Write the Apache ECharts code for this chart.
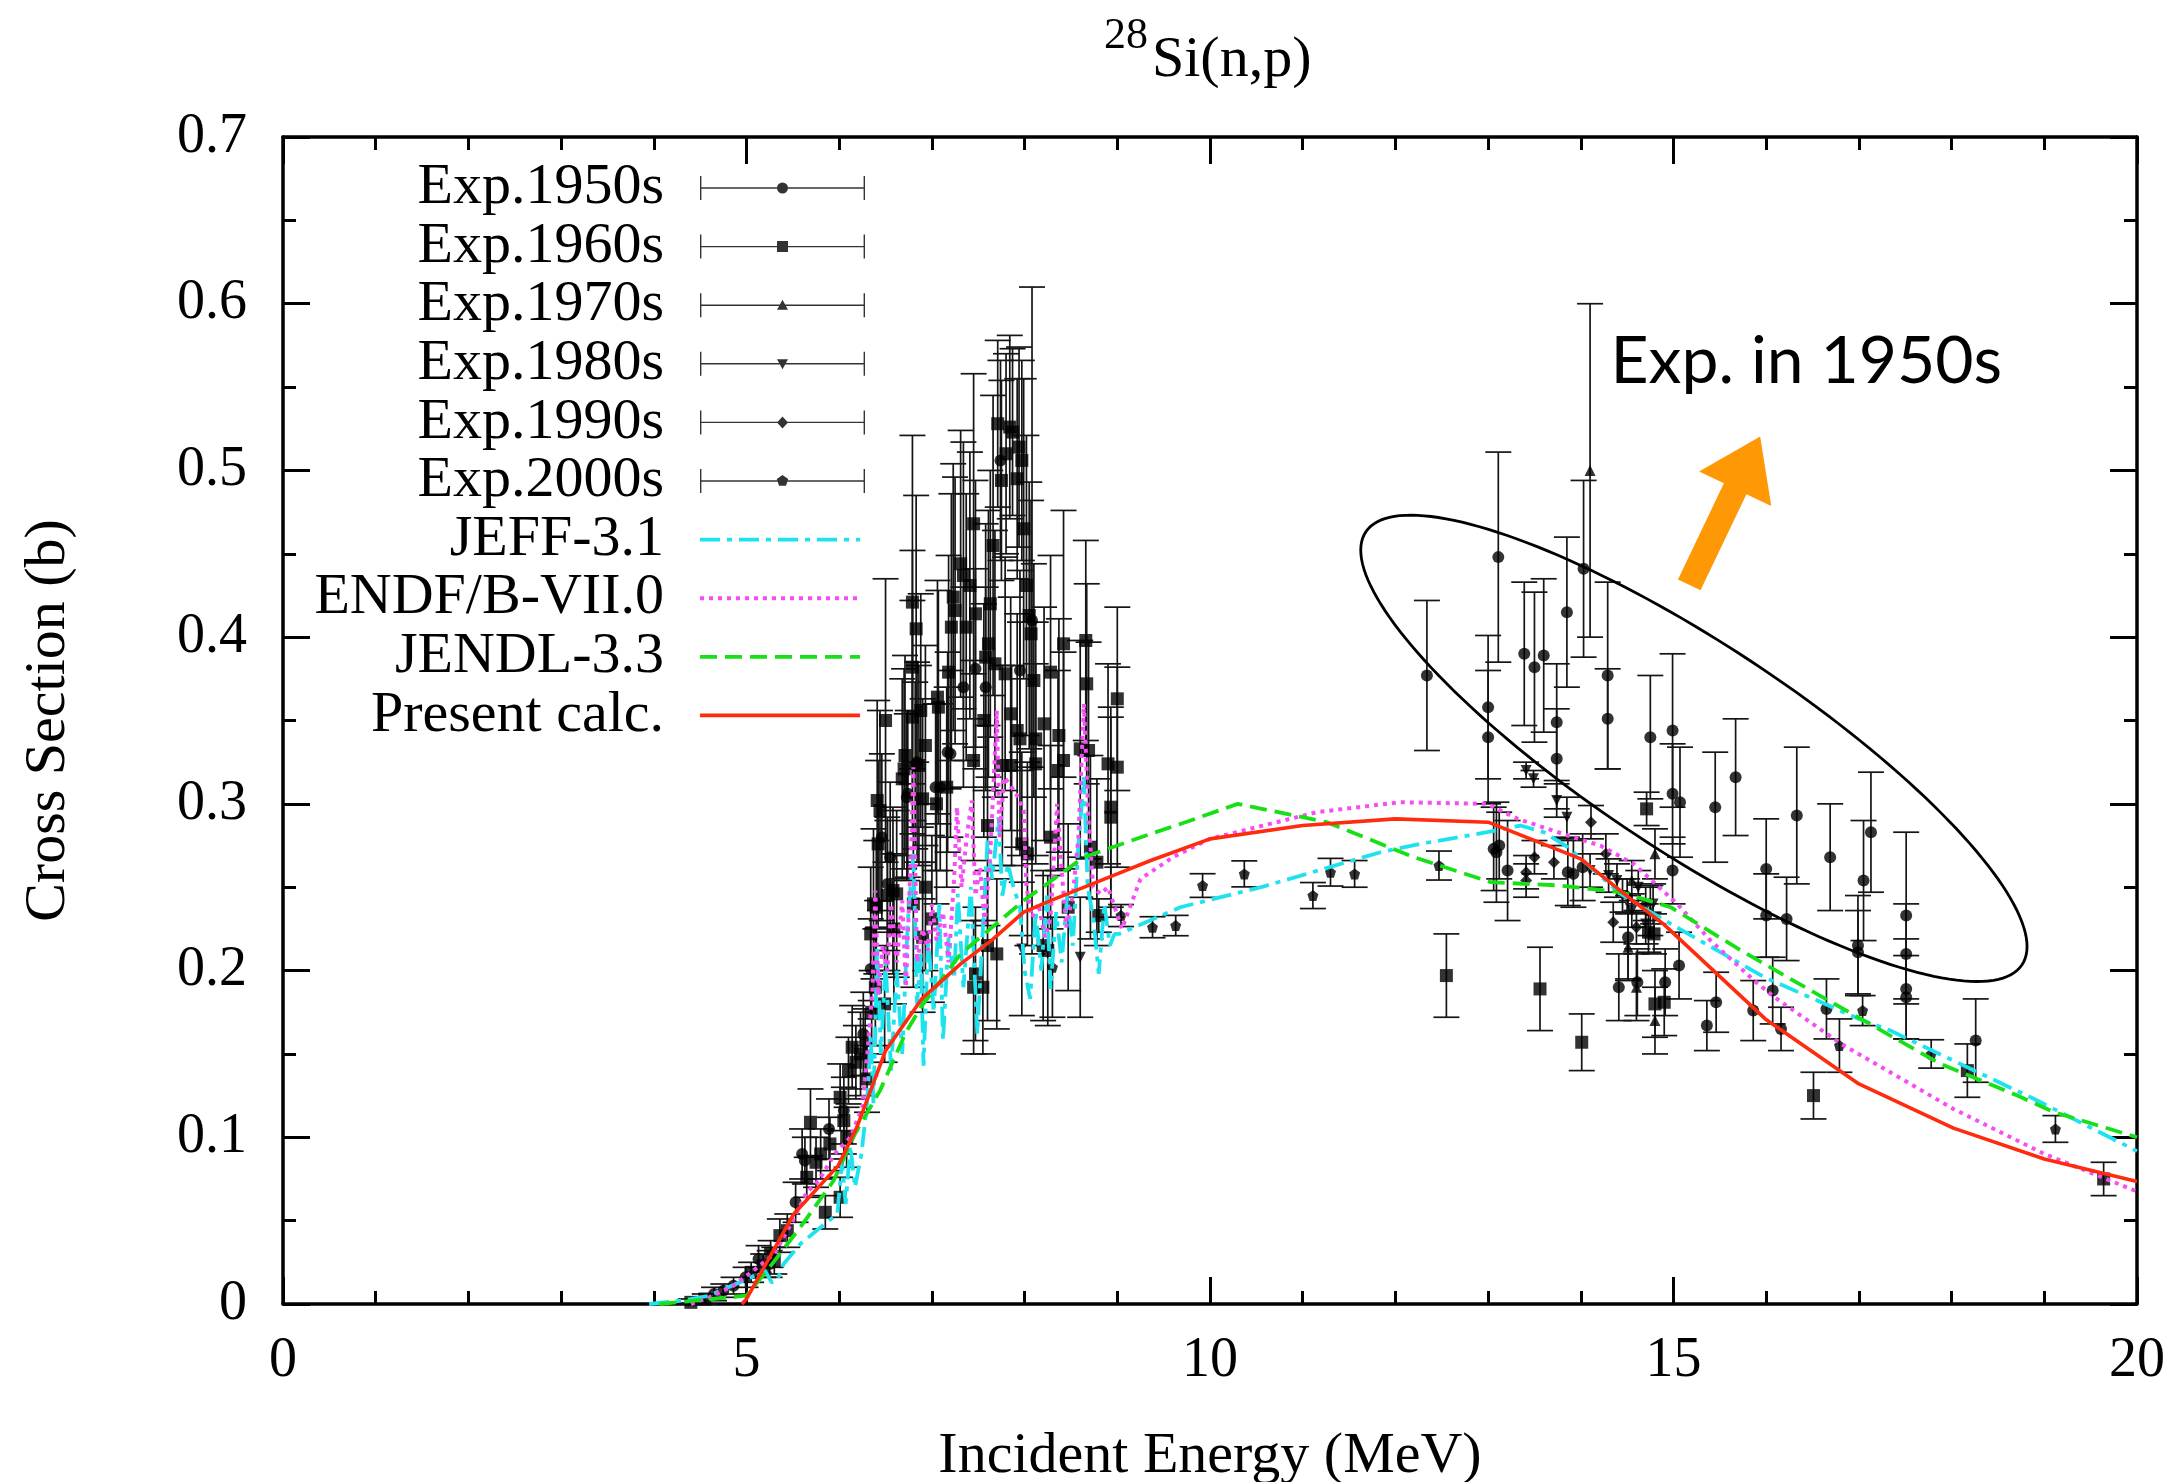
<!DOCTYPE html>
<html>
<head>
<meta charset="utf-8">
<title>28Si(n,p)</title>
<script src="https://cdn.jsdelivr.net/npm/echarts@6/dist/echarts.min.js"></script>
<style>
html,body{margin:0;padding:0;background:#ffffff;}
#chart{width:2181px;height:1482px;}
</style>
</head>
<body>
<div id="chart"></div>
<script>
// ================= DATA =================
const xTickValues = [0, 5, 10, 15, 20];
const yTickLabels = ['0', '0.1', '0.2', '0.3', '0.4', '0.5', '0.6', '0.7'];

// experimental points: [energy MeV, cross section b, error b]
const exp1950s = [
  [4.65,0.006,0.004],[4.75,0.008,0.004],[4.86,0.011,0.005],[4.99,0.016,0.006],[5.13,0.027,0.008],[5.25,0.024,0.008],
  [5.53,0.061,0.012],[5.60,0.090,0.015],[5.63,0.086,0.014],[5.89,0.105,0.018],[6.05,0.116,0.020],[6.26,0.162,0.025],
  [6.28,0.157,0.020],[6.34,0.201,0.030],
  [6.46,0.280,0.050],[6.52,0.252,0.040],[6.55,0.268,0.045],[6.73,0.304,0.050],[6.74,0.306,0.050],[6.82,0.323,0.050],
  [6.84,0.325,0.060],[7.04,0.310,0.050],[7.09,0.310,0.050],[7.17,0.331,0.060],[7.20,0.330,0.050],[7.34,0.370,0.060],
  [7.47,0.381,0.060],[7.58,0.370,0.060],[7.74,0.506,0.060],[7.95,0.380,0.060],[8.08,0.410,0.200],
  [12.34,0.377,0.045],[13.11,0.448,0.063],[13.00,0.358,0.043],[13.00,0.340,0.040],[13.39,0.390,0.043],[13.50,0.382,0.045],
  [13.60,0.389,0.046],[13.74,0.349,0.035],[13.74,0.327,0.030],[13.85,0.415,0.045],[14.03,0.441,0.053],[14.29,0.377,0.056],
  [14.29,0.351,0.030],[14.75,0.340,0.037],[14.99,0.344,0.046],[14.99,0.306,0.030],[15.07,0.301,0.033],[14.99,0.260,0.020],
  [15.45,0.298,0.033],[15.67,0.316,0.035],[16.00,0.261,0.030],[16.00,0.233,0.025],[16.22,0.231,0.025],[16.33,0.293,0.041],
  [16.69,0.268,0.032],[17.05,0.254,0.036],[17.13,0.283,0.036],[16.99,0.215,0.030],[16.99,0.211,0.025],[17.51,0.233,0.050],
  [17.51,0.210,0.030],[17.51,0.189,0.030],[17.51,0.184,0.025],[18.26,0.158,0.025],
  [13.06,0.273,0.025],[13.09,0.271,0.030],[13.12,0.275,0.020],[13.21,0.260,0.030],[13.86,0.259,0.020],[13.92,0.258,0.020],
  [14.02,0.262,0.020],[14.41,0.190,0.020],[14.51,0.220,0.025],[14.61,0.193,0.020],[14.91,0.193,0.020],[15.06,0.203,0.020],
  [15.36,0.167,0.015],[15.46,0.181,0.018],[15.86,0.176,0.018],[16.07,0.188,0.020],[16.16,0.165,0.013],[16.65,0.177,0.018]
];
const exp1960s = [
  [4.40,0.001,0.002],[4.55,0.003,0.003],[5.05,0.019,0.006],[5.18,0.023,0.007],[5.26,0.030,0.008],[5.30,0.026,0.008],
  [5.36,0.041,0.010],[5.44,0.044,0.010],[5.65,0.076,0.012],[5.69,0.109,0.020],[5.75,0.085,0.015],[5.80,0.090,0.015],
  [5.85,0.055,0.010],[5.90,0.096,0.016],[6.01,0.064,0.012],[6.01,0.124,0.020],[6.05,0.110,0.020],[6.08,0.100,0.018],
  [6.10,0.140,0.020],[6.14,0.154,0.025],[6.18,0.145,0.022],[6.23,0.150,0.025],[6.30,0.135,0.020],[6.35,0.175,0.025],
  [6.34,0.222,0.040],[6.37,0.240,0.045],[6.39,0.190,0.035],[6.40,0.238,0.040],[6.41,0.302,0.060],[6.42,0.276,0.050],
  [6.44,0.296,0.060],[6.49,0.180,0.035],[6.50,0.350,0.085],[6.52,0.245,0.045],[6.58,0.248,0.050],[6.59,0.225,0.045],
  [6.62,0.246,0.050],[6.68,0.315,0.060],[6.70,0.321,0.060],[6.71,0.329,0.060],[6.79,0.352,0.070],[6.79,0.382,0.070],
  [6.79,0.421,0.100],[6.80,0.240,0.050],[6.83,0.405,0.080],[6.86,0.323,0.060],[6.88,0.356,0.070],[6.90,0.303,0.060],
  [6.90,0.220,0.045],[6.93,0.335,0.060],[6.93,0.250,0.050],[7.00,0.231,0.050],[7.05,0.300,0.060],[7.06,0.364,0.070],
  [7.07,0.358,0.070],[7.16,0.310,0.060],[7.18,0.379,0.070],[7.21,0.406,0.080],[7.23,0.424,0.080],[7.25,0.416,0.080],
  [7.31,0.444,0.080],[7.34,0.437,0.080],[7.37,0.406,0.080],[7.41,0.431,0.080],[7.45,0.468,0.090],[7.45,0.326,0.060],
  [7.45,0.190,0.040],[7.47,0.414,0.080],[7.47,0.198,0.040],[7.55,0.190,0.040],[7.56,0.350,0.070],[7.58,0.388,0.080],
  [7.60,0.287,0.060],[7.60,0.215,0.045],[7.61,0.396,0.080],[7.63,0.420,0.080],[7.66,0.455,0.090],[7.68,0.384,0.080],
  [7.70,0.210,0.045],[7.71,0.528,0.050],[7.75,0.494,0.060],[7.76,0.323,0.060],[7.79,0.378,0.070],[7.80,0.510,0.060],
  [7.84,0.526,0.055],[7.85,0.354,0.070],[7.86,0.323,0.060],[7.87,0.523,0.050],[7.92,0.495,0.060],[7.92,0.344,0.070],
  [7.94,0.514,0.060],[7.95,0.339,0.070],[7.97,0.506,0.060],[7.97,0.276,0.055],[7.99,0.465,0.090],[8.02,0.431,0.090],
  [8.03,0.270,0.055],[8.05,0.413,0.080],[8.07,0.402,0.080],[8.10,0.374,0.070],[8.12,0.339,0.070],[8.12,0.324,0.060],
  [8.20,0.215,0.045],[8.21,0.348,0.070],[8.25,0.212,0.045],[8.28,0.379,0.070],[8.28,0.280,0.055],[8.36,0.320,0.060],
  [8.37,0.341,0.070],[8.42,0.396,0.080],[8.42,0.326,0.065],[8.47,0.238,0.050],[8.60,0.333,0.065],[8.66,0.398,0.060],
  [8.67,0.372,0.060],[8.69,0.332,0.065],[8.71,0.274,0.055],[8.78,0.265,0.050],[8.80,0.233,0.010],[8.90,0.324,0.060],
  [8.93,0.292,0.060],[8.93,0.298,0.060],[9.00,0.363,0.055],[9.00,0.322,0.060],
  [12.55,0.197,0.025],[13.56,0.189,0.025],[14.01,0.157,0.017],[14.71,0.297,0.010],[14.73,0.223,0.012],[14.79,0.222,0.012],
  [14.80,0.180,0.020],[14.90,0.181,0.020],[16.51,0.125,0.014],[18.17,0.140,0.016],[19.64,0.075,0.010]
];
const exp1970s = [
  [14.10,0.500,0.100],[14.51,0.214,0.020],[14.55,0.254,0.012],[14.60,0.190,0.020],[14.75,0.236,0.015],[14.80,0.170,0.020],[14.80,0.270,0.015]
];
const exp1980s = [
  [7.97,0.213,0.040],[8.60,0.208,0.036],[13.41,0.320,0.005],[13.49,0.315,0.005],[13.74,0.302,0.010],[13.85,0.292,0.012],
  [14.10,0.260,0.010],[14.30,0.257,0.010],[14.39,0.254,0.010],[14.45,0.245,0.010],[14.55,0.236,0.010],[14.62,0.250,0.010],
  [14.70,0.228,0.012],[14.78,0.240,0.012]
];
const exp1990s = [
  [13.41,0.259,0.010],[13.41,0.254,0.010],[13.50,0.268,0.010],[13.71,0.265,0.010],[14.11,0.289,0.010],[14.27,0.270,0.012],
  [14.35,0.229,0.012],[14.50,0.245,0.010],[14.60,0.226,0.010],[14.70,0.240,0.010]
];
const exp2000s = [
  [8.30,0.202,0.030],[9.04,0.233,0.0066],[9.38,0.226,0.0063],[9.63,0.227,0.0061],[9.92,0.251,0.0071],[10.37,0.258,0.0078],
  [11.11,0.245,0.0078],[11.30,0.259,0.0083],[11.56,0.258,0.0080],[12.47,0.263,0.0087],[16.79,0.155,0.016],[17.04,0.176,0.009],
  [17.78,0.150,0.0085],[19.12,0.105,0.008]
];

// evaluated curves: [energy MeV, cross section b]
const jeff31 = [
  [3.95,0],[4.30,0.002],[4.60,0.005],[4.84,0.011],[5.05,0.016],[5.20,0.020],[5.27,0.013],[5.33,0.014],[5.40,0.024],
  [5.58,0.036],[5.80,0.046],[5.98,0.054],[6.03,0.085],[6.07,0.060],[6.12,0.095],[6.17,0.070],[6.24,0.090],[6.30,0.120],
  [6.34,0.160],[6.37,0.120],[6.41,0.215],[6.45,0.150],[6.50,0.205],[6.56,0.140],[6.62,0.200],[6.68,0.150],[6.74,0.230],
  [6.80,0.270],[6.84,0.180],[6.88,0.210],[6.91,0.143],[6.96,0.220],[7.02,0.175],[7.08,0.240],[7.12,0.158],[7.18,0.220],
  [7.24,0.195],[7.28,0.246],[7.34,0.190],[7.42,0.250],[7.49,0.162],[7.55,0.225],[7.60,0.278],[7.65,0.255],[7.72,0.292],
  [7.76,0.245],[7.82,0.264],[7.88,0.250],[7.95,0.238],[8.00,0.200],[8.06,0.183],[8.12,0.235],[8.18,0.200],[8.24,0.245],
  [8.28,0.189],[8.34,0.235],[8.40,0.205],[8.46,0.245],[8.52,0.215],[8.58,0.275],[8.64,0.316],[8.68,0.250],[8.74,0.232],
  [8.80,0.198],[8.86,0.240],[8.92,0.215],[8.97,0.222],[9.02,0.222],[9.68,0.238],[10.55,0.250],[11.84,0.271],[12.27,0.276],
  [12.99,0.283],[13.35,0.287],[13.60,0.283],[13.86,0.274],[14.43,0.246],[14.97,0.228],[15.98,0.196],[17.00,0.171],
  [17.34,0.164],[18.17,0.142],[18.89,0.123],[20.00,0.0917]
];
const endfb70 = [
  [4.40,0],[4.60,0.004],[4.86,0.011],[5.05,0.019],[5.30,0.030],[5.50,0.050],[5.65,0.067],[5.78,0.074],[5.95,0.090],
  [6.12,0.100],[6.25,0.118],[6.32,0.160],[6.36,0.190],[6.39,0.248],[6.42,0.185],[6.47,0.215],[6.52,0.200],[6.56,0.240],
  [6.62,0.205],[6.68,0.242],[6.72,0.190],[6.78,0.280],[6.80,0.322],[6.84,0.205],[6.90,0.225],[6.96,0.212],[7.00,0.240],
  [7.05,0.218],[7.12,0.235],[7.18,0.205],[7.24,0.255],[7.27,0.298],[7.32,0.250],[7.38,0.282],[7.43,0.302],[7.47,0.245],
  [7.52,0.262],[7.57,0.228],[7.63,0.270],[7.68,0.330],[7.70,0.356],[7.73,0.280],[7.78,0.316],[7.86,0.310],[7.93,0.304],
  [7.99,0.296],[8.02,0.250],[8.08,0.232],[8.15,0.240],[8.22,0.220],[8.28,0.232],[8.35,0.300],[8.40,0.260],[8.45,0.226],
  [8.52,0.245],[8.58,0.280],[8.64,0.360],[8.69,0.290],[8.74,0.250],[8.82,0.246],[8.90,0.250],[8.96,0.240],[9.05,0.225],
  [9.25,0.255],[9.60,0.268],[10.00,0.279],[11.15,0.295],[12.05,0.301],[12.99,0.300],[13.32,0.291],[13.86,0.281],
  [14.21,0.275],[14.57,0.264],[15.04,0.240],[15.40,0.218],[15.87,0.194],[16.09,0.184],[16.81,0.156],[18.02,0.117],
  [19.00,0.090],[20.00,0.0675]
];
const jendl33 = [
  [4.06,0],[5.00,0.005],[5.22,0.020],[5.58,0.046],[5.94,0.074],[6.17,0.102],[6.44,0.128],[6.72,0.163],[6.88,0.178],
  [7.31,0.210],[7.99,0.242],[8.64,0.268],[9.36,0.282],[9.79,0.290],[10.30,0.300],[11.26,0.289],[12.20,0.268],[13.03,0.253],
  [13.78,0.251],[14.43,0.247],[14.97,0.238],[15.73,0.212],[16.23,0.196],[16.99,0.172],[17.88,0.144],[18.71,0.125],
  [19.11,0.115],[20.00,0.100]
];
const presentCalc = [
  [4.95,0],[5.00,0.003],[5.51,0.054],[5.99,0.083],[6.19,0.106],[6.50,0.152],[6.89,0.183],[7.31,0.204],[7.64,0.218],
  [7.99,0.235],[8.28,0.242],[9.00,0.258],[9.36,0.266],[10.00,0.279],[11.00,0.287],[12.00,0.291],[13.00,0.289],[14.00,0.267],
  [14.56,0.242],[14.89,0.228],[15.99,0.171],[17.00,0.132],[18.02,0.1055],[19.00,0.087],[20.00,0.0735]
];

// annotation anchors in data coordinates
const ellipseCenter = [15.22, 0.3333];
const ellipseMajorEnd = [18.76, 0.2035];
const ellipseMinorEnd = [14.60, 0.2812];
const arrowTail = [15.17, 0.4314];
const arrowTip = [15.935, 0.5204];
const noteAnchor = [14.32, 0.5514];
const noteText = 'Exp. in 1950s';

// ================= STYLE / BUILD =================
const FONT = "'Liberation Serif','Times New Roman',Times,serif";
const PENTAGON = 'path://M5 0L9.755 3.455L7.939 9.045L2.061 9.045L0.245 3.455Z';

const decades = [
  {name: 'Exp.1950s', data: exp1950s, symbol: 'circle', size: 12, rotate: 0},
  {name: 'Exp.1960s', data: exp1960s, symbol: 'rect', size: 13, rotate: 0},
  {name: 'Exp.1970s', data: exp1970s, symbol: 'triangle', size: 11, rotate: 0},
  {name: 'Exp.1980s', data: exp1980s, symbol: 'triangle', size: 11, rotate: 180},
  {name: 'Exp.1990s', data: exp1990s, symbol: 'diamond', size: 12, rotate: 0},
  {name: 'Exp.2000s', data: exp2000s, symbol: PENTAGON, size: 11, rotate: 0}
];
const curves = [
  {name: 'JEFF-3.1', data: jeff31, color: '#1ee3ef', width: 3.8, dash: [20, 7, 5, 7]},
  {name: 'ENDF/B-VII.0', data: endfb70, color: '#f54ef5', width: 4, dash: [4, 5]},
  {name: 'JENDL-3.3', data: jendl33, color: '#17e017', width: 3.8, dash: [17, 8]},
  {name: 'Present calc.', data: presentCalc, color: '#ff2b0f', width: 3.6, dash: 'solid'}
];

// legend icons (165 x 24 box)
const IW = 165, IH = 24;
const corners = 'M0 0L0.01 0L0 0.01Z M' + IW + ' ' + IH + 'L' + (IW - 0.01) + ' ' + IH + 'L' + IW + ' ' + (IH - 0.01) + 'Z ';
function rect(x, y, w, h) { return 'M' + x + ' ' + y + 'H' + (x + w) + 'V' + (y + h) + 'H' + x + 'Z '; }
const errBase = rect(0, 11.3, IW, 1.4) + rect(0, 0, 1.4, IH) + rect(IW - 1.4, 0, 1.4, IH);
const cx = IW / 2, cy = IH / 2;
const markerPaths = {
  'Exp.1950s': 'M' + (cx - 5.5) + ' ' + cy + 'A5.5 5.5 0 1 1 ' + (cx + 5.5) + ' ' + cy + 'A5.5 5.5 0 1 1 ' + (cx - 5.5) + ' ' + cy + 'Z',
  'Exp.1960s': rect(cx - 5.5, cy - 5.5, 11, 11),
  'Exp.1970s': 'M' + cx + ' ' + (cy - 5.5) + 'L' + (cx + 5.5) + ' ' + (cy + 4.5) + 'L' + (cx - 5.5) + ' ' + (cy + 4.5) + 'Z',
  'Exp.1980s': 'M' + (cx - 5.5) + ' ' + (cy - 4.5) + 'L' + (cx + 5.5) + ' ' + (cy - 4.5) + 'L' + cx + ' ' + (cy + 5.5) + 'Z',
  'Exp.1990s': 'M' + cx + ' ' + (cy - 6) + 'L' + (cx + 5.5) + ' ' + cy + 'L' + cx + ' ' + (cy + 6) + 'L' + (cx - 5.5) + ' ' + cy + 'Z',
  'Exp.2000s': 'M' + cx + ' ' + (cy - 6) + 'L' + (cx + 5.7) + ' ' + (cy - 1.9) + 'L' + (cx + 3.5) + ' ' + (cy + 4.8) + 'L' + (cx - 3.5) + ' ' + (cy + 4.8) + 'L' + (cx - 5.7) + ' ' + (cy - 1.9) + 'Z'
};
function dashIcon(pattern, thick, len) {
  let p = corners;
  if (pattern === 'solid') return 'path://' + p + rect(0, cy - thick / 2, len, thick);
  let x = 0, i = 0;
  while (x < len) {
    const seg = pattern[i % pattern.length];
    if (i % 2 === 0) p += rect(x, cy - thick / 2, Math.min(seg, len - x), thick);
    x += seg; i++;
  }
  return 'path://' + p;
}

const legendData = decades.map(d => ({
  name: d.name,
  icon: 'path://' + corners + errBase + markerPaths[d.name],
  itemStyle: {color: '#000', borderWidth: 0}
})).concat(curves.map(c => ({
  name: c.name,
  icon: dashIcon(c.dash, c.width, 160),
  itemStyle: {color: c.color, borderWidth: 0}
})));

const errorData = [];
decades.forEach(d => d.data.forEach(p => errorData.push([p[0], Math.max(0, p[1] - p[2]), p[1] + p[2]])));

const series = [];
series.push({
  type: 'custom',
  name: 'errorbars',
  data: errorData,
  dimensions: ['x', 'lo', 'hi'],
  encode: {x: 0, y: [1, 2]},
  z: 2,
  silent: true,
  renderItem: function (params, api) {
    const x = api.value(0);
    const top = api.coord([x, api.value(2)]);
    const bot = api.coord([x, api.value(1)]);
    const hw = 13;
    const st = {stroke: '#151515', lineWidth: 1.7};
    return {type: 'group', children: [
      {type: 'line', shape: {x1: top[0], y1: top[1], x2: bot[0], y2: bot[1]}, style: st},
      {type: 'line', shape: {x1: top[0] - hw, y1: top[1], x2: top[0] + hw, y2: top[1]}, style: st},
      {type: 'line', shape: {x1: bot[0] - hw, y1: bot[1], x2: bot[0] + hw, y2: bot[1]}, style: st}
    ]};
  }
});
decades.forEach(d => series.push({
  type: 'scatter',
  name: d.name,
  data: d.data.map(p => [p[0], p[1]]),
  symbol: d.symbol,
  symbolSize: d.size,
  symbolRotate: d.rotate,
  itemStyle: {color: '#000'},
  z: 3,
  silent: true
}));
curves.forEach((c, i) => series.push({
  type: 'line',
  name: c.name,
  data: c.data,
  color: c.color,
  symbol: 'none',
  lineStyle: {color: c.color, width: c.width, type: c.dash, cap: 'butt'},
  z: 4 + i,
  silent: true,
  clip: true
}));
series.push({
  type: 'custom',
  name: 'annotation',
  data: [ellipseCenter],
  z: 10,
  silent: true,
  clip: false,
  renderItem: function (params, api) {
    const c = api.coord(ellipseCenter);
    const pa = api.coord(ellipseMajorEnd);
    const pb = api.coord(ellipseMinorEnd);
    const A = [pa[0] - c[0], pa[1] - c[1]];
    const B = [pb[0] - c[0], pb[1] - c[1]];
    const pts = [];
    for (let k = 0; k <= 180; k++) {
      const t = 2 * Math.PI * k / 180;
      pts.push([c[0] + A[0] * Math.cos(t) + B[0] * Math.sin(t), c[1] + A[1] * Math.cos(t) + B[1] * Math.sin(t)]);
    }
    const t0 = api.coord(arrowTail), h = api.coord(arrowTip);
    const dx = h[0] - t0[0], dy = h[1] - t0[1], L = Math.hypot(dx, dy);
    const ux = dx / L, uy = dy / L, nx = -uy, ny = ux;
    const sw = 12.5, hw = 40, hl = 58;
    const bx = h[0] - ux * hl, by = h[1] - uy * hl;
    const arrow = [
      [t0[0] + nx * sw, t0[1] + ny * sw], [bx + nx * sw, by + ny * sw], [bx + nx * hw, by + ny * hw],
      [h[0], h[1]], [bx - nx * hw, by - ny * hw], [bx - nx * sw, by - ny * sw], [t0[0] - nx * sw, t0[1] - ny * sw]
    ];
    const tp = api.coord(noteAnchor);
    return {type: 'group', children: [
      {type: 'polyline', shape: {points: pts}, style: {stroke: '#000', lineWidth: 2.8, fill: null}},
      {type: 'polygon', shape: {points: arrow}, style: {fill: '#ff9805', stroke: null}},
      {type: 'text', x: tp[0], y: tp[1] - 23, style: {text: noteText, fontFamily: 'Lato', fontSize: 66, fill: '#000', align: 'left', verticalAlign: 'middle'}}
    ]};
  }
});

const axisLineStyle = {color: '#000', width: 3.5};
function xAxisDef(pos, showLabels) {
  return {
    type: 'value', position: pos, min: xTickValues[0], max: xTickValues[xTickValues.length - 1],
    interval: xTickValues[1] - xTickValues[0],
    axisLine: {show: true, onZero: false, lineStyle: axisLineStyle},
    axisTick: {show: true, inside: true, length: 27, lineStyle: {color: '#000', width: 3}},
    minorTick: {show: true, splitNumber: 5, length: 13, lineStyle: {color: '#000', width: 3}},
    splitLine: {show: false}, minorSplitLine: {show: false},
    axisLabel: {show: showLabels, fontFamily: FONT, fontSize: 56, color: '#000', margin: 29},
    name: showLabels ? 'Incident Energy (MeV)' : '',
    nameLocation: 'middle', nameGap: 124,
    nameTextStyle: {fontFamily: FONT, fontSize: 58, color: '#000'}
  };
}
function yAxisDef(pos, showLabels) {
  return {
    type: 'value', position: pos, min: 0, max: (yTickLabels.length - 1) / 10, interval: 0.1,
    axisLine: {show: true, onZero: false, lineStyle: axisLineStyle},
    axisTick: {show: true, inside: true, length: 27, lineStyle: {color: '#000', width: 3}},
    minorTick: {show: true, splitNumber: 2, length: 13, lineStyle: {color: '#000', width: 3}},
    splitLine: {show: false}, minorSplitLine: {show: false},
    axisLabel: {show: showLabels, fontFamily: FONT, fontSize: 56, color: '#000', margin: 36,
      formatter: v => yTickLabels[Math.round(v * 10)]},
    name: showLabels ? 'Cross Section (b)' : '',
    nameLocation: 'middle', nameGap: 205,
    nameTextStyle: {fontFamily: FONT, fontSize: 58, color: '#000'}
  };
}

const option = {
  animation: false,
  backgroundColor: '#ffffff',
  grid: {left: 283, right: 44, top: 137, bottom: 178, containLabel: false, outerBoundsMode: 'none'},
  xAxis: [xAxisDef('bottom', true), xAxisDef('top', false)],
  yAxis: [yAxisDef('left', true), yAxisDef('right', false)],
  legend: {
    orient: 'vertical', right: 2181 - 865, top: 159, align: 'right', padding: 0,
    itemWidth: IW, itemHeight: IH, itemGap: 0.6, selectedMode: false,
    textStyle: {fontFamily: FONT, fontSize: 58, color: '#000', lineHeight: 58, padding: [0, 31, 0, 0]},
    data: legendData
  },
  graphic: [
    {type: 'text', x: 1104, y: 36, style: {text: '28', fontFamily: FONT, fontSize: 44, fill: '#000', align: 'left', verticalAlign: 'middle'}},
    {type: 'text', x: 1152, y: 61, style: {text: 'Si(n,p)', fontFamily: FONT, fontSize: 58, fill: '#000', align: 'left', verticalAlign: 'middle'}}
  ],
  series: series
};

const chart = echarts.init(document.getElementById('chart'), null, {renderer: 'canvas', width: 2181, height: 1482});
chart.setOption(option);
</script>
</body>
</html>
